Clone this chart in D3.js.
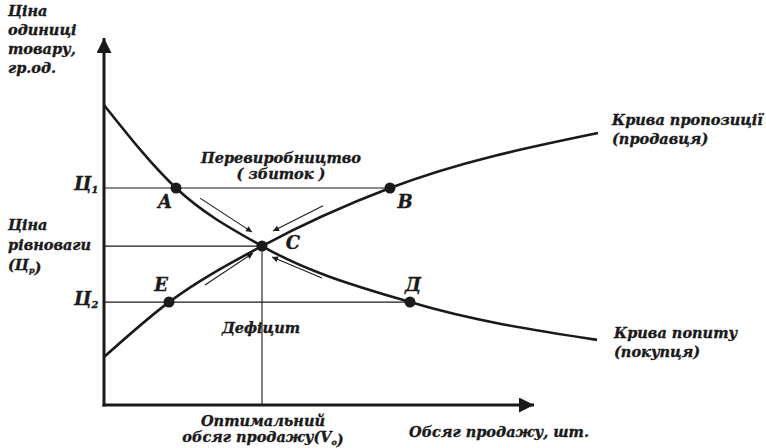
<!DOCTYPE html>
<html>
<head>
<meta charset="utf-8">
<script src="https://cdn.jsdelivr.net/npm/d3@7"></script>
<style>
  body { margin: 0; background: #fff; }
  text { font-family: "DejaVu Serif", serif; font-weight: bold; font-style: italic; fill: #1a1a1a;
         stroke: #1a1a1a; stroke-width: 0.35px; }
</style>
</head>
<body>
<div id="chart"></div>
<script>
// quantity (x) and price (y) in arbitrary units
var demand = [[0, 8.57], [1.44, 6.2], [3.16, 4.54], [6.12, 2.94], [9.86, 1.86]];
var supply = [[0, 1.37], [1.3, 2.94], [3.16, 4.54], [5.72, 6.2], [9.88, 7.77]];
var prices = [{name: "Ц", sub: "1", p: 6.2, q: 5.72}, {name: "Цр", sub: "", p: 4.54, q: 3.16}, {name: "Ц", sub: "2", p: 2.94, q: 6.12}];
var optimum = {q: 3.16, p: 4.54};
var points = [
  {label: "A", q: 1.44, p: 6.2, dx: -11, dy: 20},
  {label: "B", q: 5.72, p: 6.2, dx: 15, dy: 20},
  {label: "C", q: 3.16, p: 4.54, dx: 31, dy: 3},
  {label: "E", q: 1.3, p: 2.94, dx: -8, dy: -11},
  {label: "Д", q: 6.12, p: 2.94, dx: 3, dy: -11}
];
var arrows = [
  [[1.92, 5.91], [2.96, 4.94]],
  [[4.38, 5.69], [3.38, 4.97]],
  [[2.02, 3.43], [2.98, 4.34]],
  [[4.36, 3.63], [3.36, 4.23]]
];

var width = 766, height = 448;
var x = d3.scaleLinear().domain([0, 10]).range([104, 604]);
var y = d3.scaleLinear().domain([0, 10]).range([405, 55]);

var svg = d3.select("#chart").append("svg")
    .attr("width", width).attr("height", height);

var defs = svg.append("defs");
defs.append("marker").attr("id", "axisHead")
    .attr("viewBox", "0 0 10 10").attr("refX", 10).attr("refY", 5)
    .attr("markerWidth", 6).attr("markerHeight", 5).attr("markerUnits", "strokeWidth")
    .attr("orient", "auto")
  .append("path").attr("d", "M0,0L10,5L0,10Z").attr("fill", "#1a1a1a");
defs.append("marker").attr("id", "smallHead")
    .attr("viewBox", "0 0 10 10").attr("refX", 10).attr("refY", 5)
    .attr("markerWidth", 9).attr("markerHeight", 6).attr("markerUnits", "userSpaceOnUse")
    .attr("orient", "auto")
  .append("path").attr("d", "M0,0L10,5L0,10Z").attr("fill", "#1a1a1a");

/* guide lines */
var guides = svg.append("g").attr("stroke", "#1a1a1a").attr("stroke-width", 1.1);
guides.selectAll("line.h").data(prices).enter().append("line")
    .attr("x1", x(0)).attr("x2", function (d) { return x(d.q); })
    .attr("y1", function (d) { return y(d.p); }).attr("y2", function (d) { return y(d.p); });
guides.append("line")
    .attr("x1", x(optimum.q)).attr("x2", x(optimum.q))
    .attr("y1", y(optimum.p)).attr("y2", y(0));

/* axes */
svg.append("line").attr("x1", x(0)).attr("y1", y(0) + 1.5).attr("x2", x(0)).attr("y2", 38)
    .attr("stroke", "#1a1a1a").attr("stroke-width", 3).attr("marker-end", "url(#axisHead)");
svg.append("line").attr("x1", x(0) - 1.5).attr("y1", y(0)).attr("x2", 534).attr("y2", y(0))
    .attr("stroke", "#1a1a1a").attr("stroke-width", 3).attr("marker-end", "url(#axisHead)");

/* curves */
var line = d3.line().x(function (d) { return x(d[0]); }).y(function (d) { return y(d[1]); })
    .curve(d3.curveMonotoneX);
svg.selectAll("path.curve").data([demand, supply]).enter().append("path")
    .attr("d", line).attr("fill", "none").attr("stroke", "#1a1a1a").attr("stroke-width", 2.6);

/* arrows toward equilibrium */
svg.selectAll("line.arrow").data(arrows).enter().append("line")
    .attr("x1", function (d) { return x(d[0][0]); }).attr("y1", function (d) { return y(d[0][1]); })
    .attr("x2", function (d) { return x(d[1][0]); }).attr("y2", function (d) { return y(d[1][1]); })
    .attr("stroke", "#1a1a1a").attr("stroke-width", 1.1).attr("marker-end", "url(#smallHead)");

/* points */
svg.selectAll("circle").data(points).enter().append("circle")
    .attr("cx", function (d) { return x(d.q); }).attr("cy", function (d) { return y(d.p); })
    .attr("r", 5.5).attr("fill", "#1a1a1a");
svg.selectAll("text.pt").data(points).enter().append("text")
    .attr("x", function (d) { return x(d.q) + d.dx; }).attr("y", function (d) { return y(d.p) + d.dy; })
    .attr("text-anchor", "middle").style("font-size", "18px")
    .text(function (d) { return d.label; });

/* multi-line label helper */
function label(lines, px, py, anchor, size, lh) {
  var t = svg.append("text").attr("text-anchor", anchor).style("font-size", size + "px");
  lines.forEach(function (l, i) {
    var ts = t.append("tspan").attr("x", px).attr("y", py + i * lh);
    l.forEach(function (part) {
      var s = ts.append("tspan").text(part.t);
      if (part.sub) {
        s.attr("dy", 3).style("font-size", (size * 0.55) + "px");
        ts.append("tspan").attr("dy", -3).text("");
      }
    });
  });
  return t;
}

label([[{t: "Ціна"}], [{t: "одиниці"}], [{t: "товару,"}], [{t: "гр.од."}]], 8, 16, "start", 14.5, 19);
label([[{t: "Ц"}, {t: "1", sub: true}]], 74, 190, "start", 18, 0);
label([[{t: "Ц"}, {t: "2", sub: true}]], 74, 305, "start", 18, 0);
label([[{t: "Ціна"}], [{t: "рівноваги"}], [{t: "(Ц"}, {t: "р", sub: true}, {t: ")"}]], 8, 230, "start", 14.5, 20);
label([[{t: "Перевиробництво"}], [{t: "( збиток )"}]], 281, 163, "middle", 14.5, 16);
label([[{t: "Дефіцит"}]], 261, 333, "middle", 14.5, 0);
label([[{t: "Оптимальний"}], [{t: "обсяг продажу(V"}, {t: "o", sub: true}, {t: ")"}]], 263, 426, "middle", 14.5, 16);
label([[{t: "Обсяг продажу, шт."}]], 499, 437, "middle", 14.5, 0);
label([[{t: "Крива пропозиції"}], [{t: "(продавця)"}]], 612, 125, "start", 14.5, 19);
label([[{t: "Крива попиту"}], [{t: "(покупця)"}]], 614, 338, "start", 14.5, 19);
</script>
</body>
</html>
